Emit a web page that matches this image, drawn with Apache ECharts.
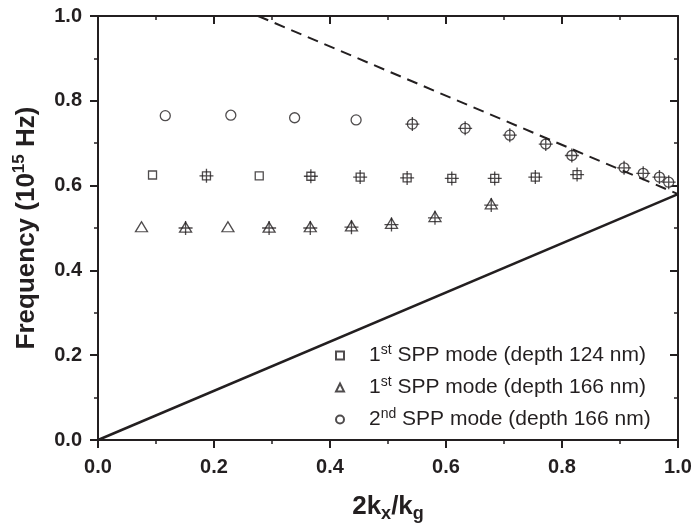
<!DOCTYPE html>
<html>
<head>
<meta charset="utf-8">
<script src="https://cdn.jsdelivr.net/npm/echarts@6/dist/echarts.min.js"></script>
<style>
  html, body { margin: 0; padding: 0; background: #fff; }
</style>
</head>
<body>
<div id="chart" style="width: 693px; height: 524px;"></div>
<script>
  // x = 2kx/kg, y = frequency (1e15 Hz)
  var sq124X = [0.094, 0.187, 0.278, 0.367, 0.452, 0.533, 0.610, 0.684, 0.754, 0.826];
  var sq124Y = [0.625, 0.623, 0.623, 0.622, 0.620, 0.618, 0.617, 0.617, 0.620, 0.626];

  var tri166X = [0.075, 0.151, 0.224, 0.295, 0.366, 0.437, 0.506, 0.581, 0.678];
  var tri166Y = [0.503, 0.502, 0.503, 0.502, 0.503, 0.505, 0.511, 0.527, 0.557];

  var circ166X = [0.116, 0.229, 0.339, 0.445, 0.542, 0.633, 0.710, 0.772, 0.817, 0.907, 0.940, 0.968, 0.984];
  var circ166Y = [0.765, 0.766, 0.760, 0.755, 0.745, 0.735, 0.719, 0.698, 0.671, 0.642, 0.629, 0.620, 0.608];

  // "+" marks drawn over some of the points
  var crossX = [0.187, 0.367, 0.452, 0.533, 0.610, 0.684, 0.754, 0.826,
                0.151, 0.295, 0.366, 0.437, 0.506, 0.581, 0.678,
                0.542, 0.633, 0.710, 0.772, 0.817, 0.907, 0.940, 0.968, 0.984];
  var crossY = [0.623, 0.622, 0.620, 0.618, 0.617, 0.617, 0.620, 0.626,
                0.500, 0.500, 0.500, 0.502, 0.508, 0.524, 0.554,
                0.745, 0.735, 0.719, 0.698, 0.671, 0.642, 0.629, 0.620, 0.608];

  var lightLineX = [0, 1];
  var lightLineY = [0, 0.58];
  var foldLineX = [0.276, 1.0];
  var foldLineY = [1.0, 0.58];

  var xTicks = [0, 0.2, 0.4, 0.6, 0.8, 1.0];
  var yTicks = [0, 0.2, 0.4, 0.6, 0.8, 1.0];

  var legendNames = ['sq124', 'tri166', 'circ166'];
  var legendLabels = {
    sq124: '{n|1}{sup|st}{n| SPP mode (depth 124 nm)}',
    tri166: '{n|1}{sup|st}{n| SPP mode (depth 166 nm)}',
    circ166: '{n|2}{sup|nd}{n| SPP mode (depth 166 nm)}'
  };

  var ink = '#231f20';
  var font = "'Liberation Sans', Arial, Helvetica, sans-serif";

  function pairs(xs, ys) {
    return xs.map(function (x, i) { return [x, ys[i]]; });
  }

  function axisBase(pos, showLabel) {
    var vert = pos === 'left' || pos === 'right';
    var ticks = vert ? yTicks : xTicks;
    return {
      type: 'value',
      position: pos,
      min: ticks[0],
      max: ticks[ticks.length - 1],
      interval: ticks[1] - ticks[0],
      axisLine: { show: true, onZero: false, lineStyle: { color: ink, width: 2 } },
      axisTick: { show: true, inside: !showLabel, length: 8, lineStyle: { color: ink, width: 2 } },
      minorTick: { show: true, splitNumber: 2, length: 4, lineStyle: { color: ink, width: 1.5 } },
      splitLine: { show: false },
      minorSplitLine: { show: false },
      axisLabel: {
        show: showLabel,
        margin: vert ? 16 : 17,
        color: ink,
        fontFamily: font,
        fontWeight: 'bold',
        fontSize: 20,
        formatter: function (v) { return v.toFixed(1); }
      }
    };
  }

  var chart = echarts.init(document.getElementById('chart'));

  var xMain = axisBase('bottom', true);
  xMain.name = '{n|2k}{sub|x}{n|/k}{sub|g}';
  xMain.nameLocation = 'middle';
  xMain.nameGap = 51;
  xMain.nameTextStyle = {
    rich: {
      n: { fontFamily: font, fontWeight: 'bold', fontSize: 26, color: ink },
      sub: { fontFamily: font, fontWeight: 'bold', fontSize: 18, color: ink, padding: [14, 0, 0, 0] }
    }
  };
  var xTop = axisBase('top', false);

  var yMain = axisBase('left', true);
  yMain.name = '{n|Frequency (10}{sup|15}{n| Hz)}';
  yMain.nameLocation = 'middle';
  yMain.nameGap = 56;
  yMain.nameTextStyle = {
    rich: {
      n: { fontFamily: font, fontWeight: 'bold', fontSize: 26, color: ink },
      sup: { fontFamily: font, fontWeight: 'bold', fontSize: 17, color: ink, padding: [0, 0, 14, 0] }
    }
  };
  var yRight = axisBase('right', false);

  var openItem = { color: '#fff', borderColor: ink, borderWidth: 1.3 };

  chart.setOption({
    animation: false,
    backgroundColor: '#fff',
    grid: { left: 98, right: 15, top: 16, bottom: 84, outerBoundsMode: 'none' },
    xAxis: [xMain, xTop],
    yAxis: [yMain, yRight],
    legend: {
      data: legendNames,
      orient: 'vertical',
      left: 335,
      top: 343,
      padding: 0,
      itemWidth: 8,
      itemHeight: 8,
      itemGap: 7,
      selectedMode: false,
      formatter: function (name) { return legendLabels[name]; },
      textStyle: {
        padding: [0, 0, 0, 20],
        rich: {
          n: { fontFamily: font, fontSize: 21, color: ink, lineHeight: 24 },
          sup: { fontFamily: font, fontSize: 14, color: ink, lineHeight: 14, padding: [0, 0, 11, 0] }
        }
      }
    },
    series: [
      {
        name: 'light',
        type: 'line',
        data: pairs(lightLineX, lightLineY),
        symbol: 'none',
        silent: true,
        lineStyle: { color: ink, width: 2.5 }
      },
      {
        name: 'fold',
        type: 'line',
        data: pairs(foldLineX, foldLineY),
        symbol: 'none',
        silent: true,
        lineStyle: { color: ink, width: 2, type: [11, 7] }
      },
      {
        name: 'sq124',
        type: 'scatter',
        data: pairs(sq124X, sq124Y),
        symbol: 'rect',
        symbolSize: 8,
        itemStyle: openItem
      },
      {
        name: 'tri166',
        type: 'scatter',
        data: pairs(tri166X, tri166Y),
        symbol: 'triangle',
        symbolSize: [12, 10],
        itemStyle: openItem
      },
      {
        name: 'circ166',
        type: 'scatter',
        data: pairs(circ166X, circ166Y),
        symbol: 'circle',
        symbolSize: 10,
        itemStyle: openItem
      },
      {
        name: 'cross',
        type: 'scatter',
        data: pairs(crossX, crossY),
        symbol: 'path://M0,7 L14,7 M7,0 L7,14',
        symbolSize: 14,
        z: 3,
        itemStyle: { color: 'none', borderColor: ink, borderWidth: 1.3 }
      }
    ]
  });
</script>
</body>
</html>
